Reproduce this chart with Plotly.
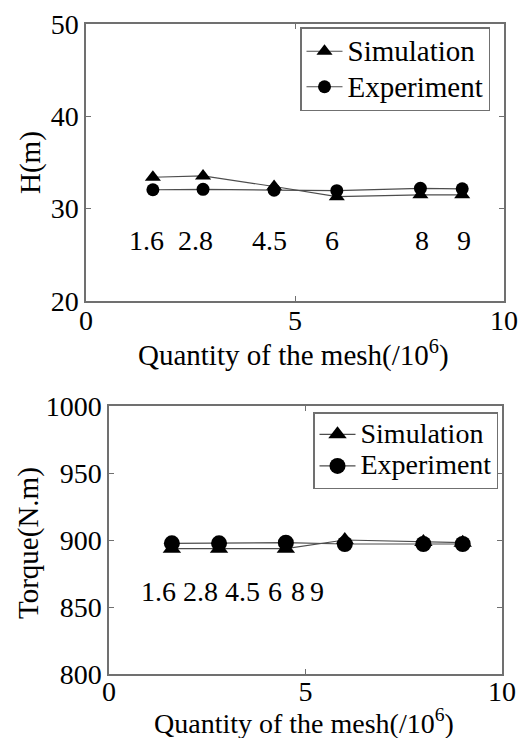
import plotly.graph_objects as go

# Mesh sizes (millions of cells) and results
mesh = [1.6, 2.8, 4.5, 6, 8, 9]
head_sim = [33.4, 33.55, 32.4, 31.3, 31.5, 31.5]
head_exp = [32.05, 32.1, 32.0, 31.95, 32.2, 32.15]
torque_sim = [893.5, 893.5, 893.5, 900.0, 898.5, 898.0]
torque_exp = [897.5, 897.5, 898.0, 897.0, 897.0, 897.0]
mesh_labels = ["1.6", "2.8", "4.5", "6", "8", "9"]
series_names = ["Simulation", "Experiment"]

# Where the mesh-size labels are written inside each panel
label_x_top = [1.44, 2.61, 4.38, 5.89, 8.04, 9.04]
label_y_top = 26.55
label_x_bot = [1.27, 2.32, 3.40, 4.22, 4.80, 5.28]
label_y_bot = 861.4

FONT = "Times New Roman, Liberation Serif, DejaVu Serif, serif"
LINE_COLOR = "#4d4d4d"
FRAME_COLOR = "#707070"
W, H = 522, 738

fig = go.Figure()


def add_series(y, xa, ya, name, symbol, size, text_px):
    # legend rows are spaced by the legend font; the label itself is larger
    fig.add_trace(go.Scatter(
        x=mesh, y=y, xaxis=xa, yaxis=ya,
        name=f'<span style="font-size:{text_px}px">{name}</span>',
        mode="lines+markers",
        line=dict(color=LINE_COLOR, width=1.2),
        marker=dict(symbol=symbol, size=size, color="black"),
        legend="legend" if xa == "x" else "legend2",
    ))


add_series(head_sim, "x", "y", series_names[0], "triangle-up", 14, 29)
add_series(head_exp, "x", "y", series_names[1], "circle", 13, 29)
add_series(torque_sim, "x2", "y2", series_names[0], "triangle-up", 16, 28)
add_series(torque_exp, "x2", "y2", series_names[1], "circle", 16, 28)

tick_font = dict(family=FONT, size=28, color="black")
axis_common = dict(
    showgrid=False, zeroline=False, showline=True, linecolor=FRAME_COLOR,
    linewidth=1.5, mirror="ticks", ticks="inside", ticklen=5,
    tickcolor=FRAME_COLOR, tickwidth=1, tickfont=tick_font,
    automargin=False,
)
legend_common = dict(
    xanchor="left", yanchor="top", bgcolor="white",
    bordercolor=FRAME_COLOR, borderwidth=1.5,
    itemwidth=36, tracegroupgap=0,
)

fig.update_layout(
    width=W, height=H,
    margin=dict(l=0, r=0, t=0, b=0, pad=0, autoexpand=False),
    paper_bgcolor="white", plot_bgcolor="white",
    font=dict(family=FONT, color="black"),
    xaxis=dict(domain=[86 / W, 504 / W], range=[0, 10],
               tickvals=[0, 5, 10], anchor="y", ticklabelstandoff=-6,
               **axis_common),
    yaxis=dict(domain=[1 - 301 / H, 1 - 24 / H], range=[20, 50],
               tickvals=[20, 30, 40, 50], anchor="x", **axis_common),
    xaxis2=dict(domain=[109 / W, 502 / W], range=[0, 10],
                tickvals=[0, 5, 10], anchor="y2", ticklabelstandoff=-8,
                **axis_common),
    yaxis2=dict(domain=[1 - 674 / H, 1 - 406 / H], range=[800, 1000],
                tickvals=[800, 850, 900, 950, 1000], anchor="x2",
                **axis_common),
    legend=dict(x=300 / W, y=1 - 27 / H,
                font=dict(family=FONT, size=25, color="black"),
                **legend_common),
    legend2=dict(x=313 / W, y=1 - 412 / H,
                 font=dict(family=FONT, size=22, color="black"),
                 **legend_common),
)

label_font = dict(family=FONT, size=28, color="black")
annotations = []
for lx, txt in zip(label_x_top, mesh_labels):
    annotations.append(dict(x=lx, y=label_y_top, xref="x", yref="y",
                            text=txt, showarrow=False, font=label_font))
for lx, txt in zip(label_x_bot, mesh_labels):
    annotations.append(dict(x=lx, y=label_y_bot, xref="x2", yref="y2",
                            text=txt, showarrow=False, font=label_font))

xtitle = "Quantity of the mesh(/10<sup>6</sup>)"
centered = dict(xref="paper", yref="paper", showarrow=False,
                xanchor="center", yanchor="middle")
annotations += [
    dict(x=293 / W, y=1 - 353 / H, text=xtitle,
         font=dict(family=FONT, size=29, color="black"), **centered),
    dict(x=304 / W, y=1 - 721 / H, text=xtitle,
         font=dict(family=FONT, size=28, color="black"), **centered),
    dict(x=30 / W, y=1 - 163 / H, text="H(m)", textangle=-90,
         font=dict(family=FONT, size=29, color="black"), **centered),
    dict(x=28 / W, y=1 - 543 / H, text="Torque(N.m)", textangle=-90,
         font=dict(family=FONT, size=29, color="black"), **centered),
]
fig.update_layout(annotations=annotations)

fig.write_html("out.html")
